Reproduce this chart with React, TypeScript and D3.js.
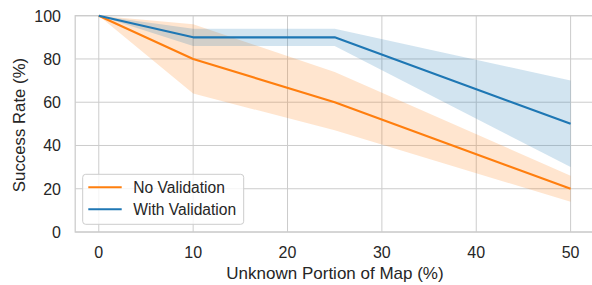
import React from "react";
import * as d3 from "d3";

const xs = [0, 10, 25, 50];
const noValMean = [100, 80, 60, 20];
const noValLow = [100, 64, 47, 14];
const noValHigh = [100, 96, 74, 26];
const withValMean = [100, 90, 90, 50];
const withValLow = [100, 86, 86, 30];
const withValHigh = [100, 94, 94, 70];
const xTicks = [0, 10, 20, 30, 40, 50];
const yTicks = [0, 20, 40, 60, 80, 100];
const seriesNames = ["No Validation", "With Validation"];
const colors = ["#ff7f0e", "#1f77b4"];

const W = 592;
const H = 285;
const FONT = "'Liberation Sans', Arial, sans-serif";

export default function App() {
  const x = d3.scaleLinear().domain([-2.5, 52.5]).range([75.2, 594.2]);
  const y = d3.scaleLinear().domain([0, 100]).range([232, 15.7]);

  const series = [
    { mean: noValMean, low: noValLow, high: noValHigh },
    { mean: withValMean, low: withValLow, high: withValHigh },
  ];

  const line = d3
    .line<number>()
    .x((_, i) => x(xs[i]))
    .y((d) => y(d));

  const area = (low: number[], high: number[]) =>
    d3
      .area<number>()
      .x((_, i) => x(xs[i]))
      .y0((_, i) => y(low[i]))
      .y1((_, i) => y(high[i]))(xs);

  const left = x.range()[0];
  const right = x.range()[1];
  const top = y.range()[1];
  const bottom = y.range()[0];

  return (
    <svg
      width={W}
      height={H}
      style={{ position: "absolute", left: 0, top: 0, background: "#fff" }}
      fontFamily={FONT}
    >
      <rect x={0} y={0} width={W} height={H} fill="#fff" />
      {xTicks.map((t) => (
        <line key={"gx" + t} x1={x(t)} x2={x(t)} y1={top} y2={bottom} stroke="#cccccc" strokeWidth={1} />
      ))}
      {yTicks.map((t) => (
        <line key={"gy" + t} x1={left} x2={right} y1={y(t)} y2={y(t)} stroke="#cccccc" strokeWidth={1} />
      ))}
      <rect x={left} y={top} width={right - left} height={bottom - top} fill="none" stroke="#cccccc" strokeWidth={1.25} />

      {series.map((s, i) => (
        <g key={i}>
          <path d={line(s.mean) || ""} fill="none" stroke={colors[i]} strokeWidth={2.1} strokeLinejoin="round" />
          <path d={area(s.low, s.high) || ""} fill={colors[i]} fillOpacity={0.2} stroke="none" />
        </g>
      ))}

      {xTicks.map((t) => (
        <text key={"tx" + t} x={x(t)} y={258.3} fontSize={16} fill="#262626" textAnchor="middle">
          {t}
        </text>
      ))}
      {yTicks.map((t) => (
        <text key={"ty" + t} x={61} y={y(t) + 5.8} fontSize={16} fill="#262626" textAnchor="end">
          {t}
        </text>
      ))}

      <text x={335} y={279} fontSize={17} fill="#262626" textAnchor="middle">
        Unknown Portion of Map (%)
      </text>
      <text transform={`translate(25,125) rotate(-90)`} fontSize={16.8} fill="#262626" textAnchor="middle">
        Success Rate (%)
      </text>

      <rect x={82.7} y={174.3} width={161} height={50} rx={3} fill="#fff" fillOpacity={0.8} stroke="#cccccc" strokeWidth={1} />
      {seriesNames.map((n, i) => (
        <g key={n}>
          <line x1={88.3} x2={121.7} y1={187.3 + i * 22} y2={187.3 + i * 22} stroke={colors[i]} strokeWidth={2.1} />
          <text x={133.3} y={193.3 + i * 22} fontSize={15.6} fill="#262626">
            {n}
          </text>
        </g>
      ))}
    </svg>
  );
}
